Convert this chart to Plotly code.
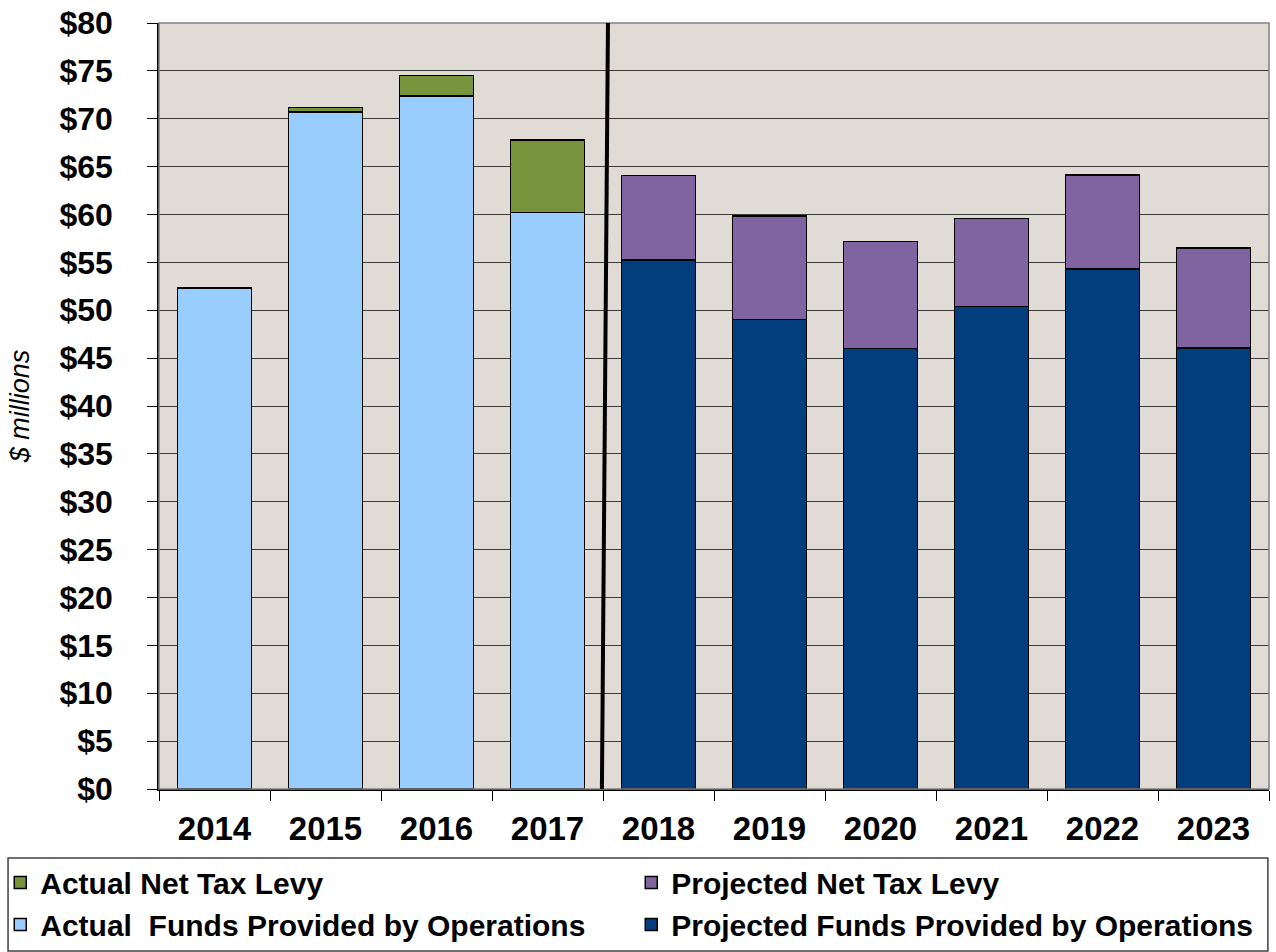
import plotly.graph_objects as go

years = ["2014", "2015", "2016", "2017", "2018", "2019", "2020", "2021", "2022", "2023"]
actual_funds = [52.3, 70.7, 72.4, 60.2, None, None, None, None, None, None]
actual_levy = [None, 0.5, 2.1, 7.6, None, None, None, None, None, None]
projected_funds = [None, None, None, None, 55.25, 49.05, 46.0, 50.4, 54.3, 46.05]
projected_levy = [None, None, None, None, 8.8, 10.8, 11.2, 9.2, 9.8, 10.45]
y_ticks = list(range(0, 85, 5))
y_tick_text = ["$" + str(v) for v in y_ticks]

FONT = "Liberation Sans, Arial, sans-serif"
line = dict(color="black", width=1.5)

fig = go.Figure()
fig.add_trace(go.Bar(x=years, y=actual_funds, name="Actual  Funds Provided by Operations",
                     marker=dict(color="#99CCFF", line=line), legendrank=3))
fig.add_trace(go.Bar(x=years, y=actual_levy, name="Actual Net Tax Levy",
                     marker=dict(color="#77933C", line=line), legendrank=1))
fig.add_trace(go.Bar(x=years, y=projected_funds, name="Projected Funds Provided by Operations",
                     marker=dict(color="#023E7D", line=line), legendrank=4))
fig.add_trace(go.Bar(x=years, y=projected_levy, name="Projected Net Tax Levy",
                     marker=dict(color="#8064A2", line=line), legendrank=2))

fig.update_layout(
    width=1276, height=952,
    margin=dict(l=159, r=7, t=23, b=163, autoexpand=False),
    barmode="stack", bargap=0.33,
    plot_bgcolor="#E0DCD5", paper_bgcolor="white",
    font=dict(family=FONT, color="black"),
    showlegend=True,
    legend=dict(orientation="h", x=-0.143, xanchor="left", y=-0.088, yanchor="top",
                entrywidth=586, entrywidthmode="pixels",
                font=dict(family=FONT, size=30, weight="bold", color="black"),
                bgcolor="rgba(0,0,0,0)", traceorder="normal"),
    xaxis=dict(type="category", showline=True, linecolor="black", linewidth=1.5,
               ticks="outside", tickson="boundaries", ticklen=10, tickcolor="black",
               tickfont=dict(family=FONT, size=33, weight="bold"), ticklabelstandoff=10,
               showgrid=False),
    yaxis=dict(range=[0, 80], tickvals=y_ticks, ticktext=y_tick_text,
               showline=True, linecolor="black", linewidth=1.5,
               ticks="outside", ticklen=10, tickcolor="black", ticklabeloverflow="allow",
               tickfont=dict(family=FONT, size=32, weight="bold"), ticklabelstandoff=28,
               showgrid=True, gridcolor="#3a3a3a", gridwidth=1, zeroline=False,
               title=dict(text="$ millions", standoff=22,
                          font=dict(family=FONT, size=27, style="italic"))),
)

# plot area border
fig.add_shape(type="rect", xref="paper", yref="paper", x0=0, x1=1, y0=0, y1=1,
              line=dict(color="#808080", width=1.5), layer="above")
# divider between actual and projected
fig.add_shape(type="line", xref="x", yref="y", x0=3.49, y0=-0.2, x1=3.545, y1=80.4,
              line=dict(color="black", width=4), layer="above")
# legend frame
fig.add_shape(type="rect", xref="paper", yref="paper", x0=-0.136, x1=0.999,
              y0=-0.2115, y1=-0.090, line=dict(color="#404040", width=1.5))

fig.write_html("out.html", config={"displayModeBar": False},
               post_script="document.body.style.margin='0';")
